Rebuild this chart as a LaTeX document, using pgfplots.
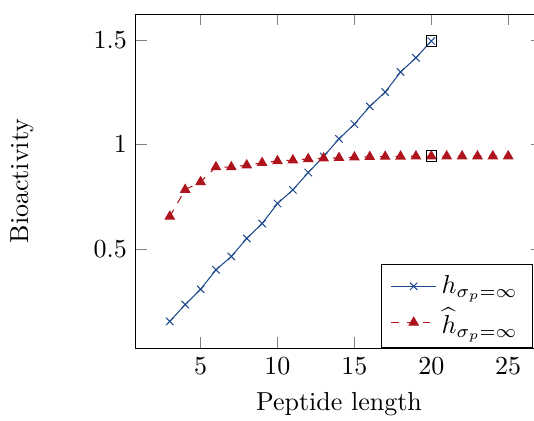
\documentclass[border=0pt]{standalone}
\usepackage{pgfplots}
\pgfplotsset{compat=1.18}
\usetikzlibrary{calc}
\definecolor{myblue}{RGB}{30,72,140}
\definecolor{myred}{RGB}{175,20,30}
\begin{document}
\begin{tikzpicture}
\begin{axis}[
  scale only axis,
  width=156.2pt, height=128.5pt,
  xmin=0.8, xmax=27.2, ymin=0.027, ymax=1.623,
  xtick={5,10,15,20,25},
  ytick={0.5,1,1.5},
  xlabel={Peptide length},
  ylabel={Bioactivity},
  xlabel style={at={(axis description cs:0.5,-0.168)}, anchor=center},
  ylabel style={at={(axis description cs:-0.281,0.5)}, anchor=center},
  legend style={at={(0.978,0)}, anchor=south east, legend cell align=left, inner xsep=3.8pt},
]
\addplot[myblue, mark=x, mark options={solid}] coordinates {
(3,0.155) (4,0.235) (5,0.308) (6,0.401) (7,0.465) (8,0.551) (9,0.622) (10,0.718)
(11,0.783) (12,0.866) (13,0.943) (14,1.027) (15,1.097) (16,1.182) (17,1.250)
(18,1.346) (19,1.414) (20,1.494)
};
\addlegendentry{$h_{\sigma_p=\infty}$}
\addplot[myred, dashed, mark=triangle*, mark options={solid, fill=myred}] coordinates {
(3,0.656) (4,0.784) (5,0.821) (6,0.892) (7,0.892) (8,0.901) (9,0.912) (10,0.921)
(11,0.925) (12,0.931) (13,0.934) (14,0.936) (15,0.939) (16,0.941) (17,0.942)
(18,0.943) (19,0.944) (20,0.944) (21,0.944) (22,0.944) (23,0.944) (24,0.944) (25,0.944)
};
\addlegendentry{$\widehat{h}_{\sigma_p=\infty}$}
\addplot[only marks, black, mark=square, forget plot] coordinates {
(20,1.494) (20,0.944)
};
\end{axis}
\pgfresetboundingbox
\path[use as bounding box] ($(current axis.south west)+(-52.3pt,-27.7pt)$) rectangle ($(current axis.north west)+(153.1pt,5.4pt)$);
\end{tikzpicture}
\end{document}
